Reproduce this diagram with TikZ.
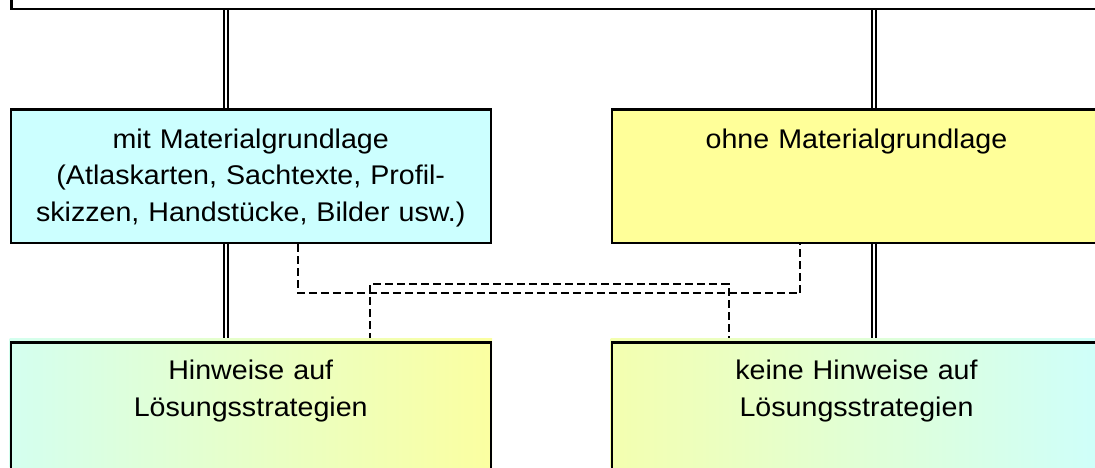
\documentclass[tikz,border=0pt]{standalone}
\usepackage{fontspec}
\setmainfont{Liberation Sans}[FakeStretch=1.06]
\usetikzlibrary{positioning,backgrounds}
\definecolor{paleCyan}{HTML}{CCFFFF}
\definecolor{paleYellow}{HTML}{FFFF99}
\pgfdeclarehorizontalshading{cyantoyellow}{100bp}{color(0bp)=(paleCyan); color(15bp)=(paleCyan); color(80bp)=(paleYellow); color(100bp)=(paleYellow)}
\pgfdeclarehorizontalshading{yellowtocyan}{100bp}{color(0bp)=(paleYellow); color(10bp)=(paleYellow); color(78bp)=(paleCyan); color(100bp)=(paleCyan)}

\begin{document}
\begin{tikzpicture}
[x=1pt, y=-1pt,
box/.style={draw, line width=2.5pt, inner sep=0pt, align=center, font=\fontsize{27}{36.5}\selectfont},
midbox/.style={box, text width=#1, text height=38.5pt, text depth=95pt},
hintbox/.style={box, text width=#1, text height=37.5pt, text depth=100pt},
dline/.style={double, double distance=2.4pt, line width=2pt},
dashline/.style={line width=2pt, dash pattern=on 8pt off 4pt},
]
\useasboundingbox (0,0) rectangle (1095,468);
\clip (0,0) rectangle (1095,468);

\node[box, minimum width=1090pt, minimum height=60pt, anchor=south west] (top) at (10.3,10.3) {};
\node[midbox=480pt, fill=paleCyan, anchor=north west] (midL) at (9.5,108.3)
  {mit Materialgrundlage\\(Atlaskarten, Sachtexte, Profil-\\skizzen, Handstücke, Bilder usw.)};
\node[midbox=489.5pt, fill=paleYellow, anchor=north west] (midR) at (610.5,108.3)
  {ohne Materialgrundlage};
\node[hintbox=480pt, anchor=north west] (hintL) at (9.5,341) {Hinweise auf\\Lösungsstrategien};
\node[hintbox=489.5pt, anchor=north west] (hintR) at (610.5,341) {keine Hinweise auf\\Lösungsstrategien};

\begin{pgfonlayer}{background}
% double links
\draw[dline] ([xshift=-25pt]midL.north) -- ([xshift=-25pt]midL.north |- top.south);
\draw[dline] ([xshift=17.75pt]midR.north) -- ([xshift=17.75pt]midR.north |- top.south);
\draw[dline] ([xshift=-25pt]midL.south) -- ([xshift=-25pt]hintL.north);
\draw[dline] ([xshift=17.75pt]midR.south) -- ([xshift=17.75pt]hintR.north);
% dashed cross links
\draw[dashline] ([xshift=47pt]midL.south) -- ++(0,49) -| ([xshift=-56.5pt]midR.south);
\draw[dashline] ([xshift=119.4pt]hintL.north) -- ++(0,-57) -| ([xshift=-127.5pt]hintR.north);
% gradient fills
\shade[shading=cyantoyellow] ([yshift=3pt]hintL.north west) rectangle (hintL.south east);
\shade[shading=yellowtocyan] ([yshift=3pt]hintR.north west) rectangle (hintR.south east);
\end{pgfonlayer}
\end{tikzpicture}
\end{document}
